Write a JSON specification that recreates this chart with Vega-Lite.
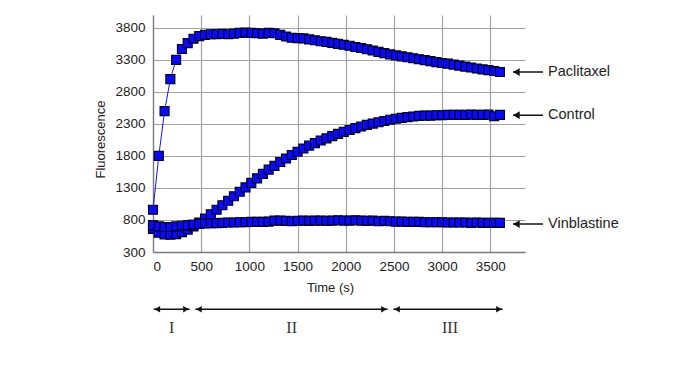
{
  "$schema": "https://vega.github.io/schema/vega-lite/v6.json",
  "width": 372,
  "height": 237,
  "autosize": "none",
  "padding": {"left": 153, "top": 15, "right": 174, "bottom": 125},
  "background": "white",
  "config": {
    "view": {"stroke": null},
    "axis": {
      "grid": true, "gridColor": "#a3a3a3", "gridWidth": 1.2,
      "domainColor": "#7a7a7a", "domainWidth": 1.3, "ticks": false, "labelOverlap": false,
      "labelFont": "Liberation Sans", "labelFontSize": 13.5, "labelColor": "#222222",
      "titleFont": "Liberation Sans", "titleFontSize": 13, "titleFontWeight": "normal", "titleColor": "#222222"
    }
  },
  "datasets": {
    "series": [
      {"series":"Paclitaxel","t":0,"v":960},{"series":"Paclitaxel","t":60,"v":1800},{"series":"Paclitaxel","t":120,"v":2500},{"series":"Paclitaxel","t":180,"v":3000},{"series":"Paclitaxel","t":240,"v":3300},{"series":"Paclitaxel","t":300,"v":3470},{"series":"Paclitaxel","t":360,"v":3560},{"series":"Paclitaxel","t":420,"v":3630},{"series":"Paclitaxel","t":480,"v":3670},{"series":"Paclitaxel","t":540,"v":3690},{"series":"Paclitaxel","t":600,"v":3700},{"series":"Paclitaxel","t":660,"v":3700},{"series":"Paclitaxel","t":720,"v":3705},{"series":"Paclitaxel","t":780,"v":3700},{"series":"Paclitaxel","t":840,"v":3710},{"series":"Paclitaxel","t":900,"v":3720},{"series":"Paclitaxel","t":960,"v":3725},{"series":"Paclitaxel","t":1020,"v":3720},{"series":"Paclitaxel","t":1080,"v":3715},{"series":"Paclitaxel","t":1140,"v":3710},{"series":"Paclitaxel","t":1200,"v":3720},{"series":"Paclitaxel","t":1260,"v":3715},{"series":"Paclitaxel","t":1320,"v":3690},{"series":"Paclitaxel","t":1380,"v":3665},{"series":"Paclitaxel","t":1440,"v":3645},{"series":"Paclitaxel","t":1500,"v":3640},{"series":"Paclitaxel","t":1560,"v":3635},{"series":"Paclitaxel","t":1620,"v":3620},{"series":"Paclitaxel","t":1680,"v":3605},{"series":"Paclitaxel","t":1740,"v":3590},{"series":"Paclitaxel","t":1800,"v":3580},{"series":"Paclitaxel","t":1860,"v":3565},{"series":"Paclitaxel","t":1920,"v":3550},{"series":"Paclitaxel","t":1980,"v":3535},{"series":"Paclitaxel","t":2040,"v":3520},{"series":"Paclitaxel","t":2100,"v":3500},{"series":"Paclitaxel","t":2160,"v":3485},{"series":"Paclitaxel","t":2220,"v":3465},{"series":"Paclitaxel","t":2280,"v":3445},{"series":"Paclitaxel","t":2340,"v":3425},{"series":"Paclitaxel","t":2400,"v":3405},{"series":"Paclitaxel","t":2460,"v":3385},{"series":"Paclitaxel","t":2520,"v":3370},{"series":"Paclitaxel","t":2580,"v":3355},{"series":"Paclitaxel","t":2640,"v":3340},{"series":"Paclitaxel","t":2700,"v":3325},{"series":"Paclitaxel","t":2760,"v":3310},{"series":"Paclitaxel","t":2820,"v":3295},{"series":"Paclitaxel","t":2880,"v":3280},{"series":"Paclitaxel","t":2940,"v":3265},{"series":"Paclitaxel","t":3000,"v":3250},{"series":"Paclitaxel","t":3060,"v":3240},{"series":"Paclitaxel","t":3120,"v":3225},{"series":"Paclitaxel","t":3180,"v":3210},{"series":"Paclitaxel","t":3240,"v":3195},{"series":"Paclitaxel","t":3300,"v":3180},{"series":"Paclitaxel","t":3360,"v":3165},{"series":"Paclitaxel","t":3420,"v":3150},{"series":"Paclitaxel","t":3480,"v":3140},{"series":"Paclitaxel","t":3540,"v":3125},{"series":"Paclitaxel","t":3600,"v":3110},
      {"series":"Control","t":0,"v":660},{"series":"Control","t":60,"v":600},{"series":"Control","t":120,"v":575},{"series":"Control","t":180,"v":570},{"series":"Control","t":240,"v":580},{"series":"Control","t":300,"v":610},{"series":"Control","t":360,"v":650},{"series":"Control","t":420,"v":700},{"series":"Control","t":480,"v":760},{"series":"Control","t":540,"v":820},{"series":"Control","t":600,"v":890},{"series":"Control","t":660,"v":960},{"series":"Control","t":720,"v":1030},{"series":"Control","t":780,"v":1100},{"series":"Control","t":840,"v":1170},{"series":"Control","t":900,"v":1240},{"series":"Control","t":960,"v":1310},{"series":"Control","t":1020,"v":1380},{"series":"Control","t":1080,"v":1450},{"series":"Control","t":1140,"v":1520},{"series":"Control","t":1200,"v":1585},{"series":"Control","t":1260,"v":1645},{"series":"Control","t":1320,"v":1705},{"series":"Control","t":1380,"v":1760},{"series":"Control","t":1440,"v":1815},{"series":"Control","t":1500,"v":1865},{"series":"Control","t":1560,"v":1915},{"series":"Control","t":1620,"v":1960},{"series":"Control","t":1680,"v":2000},{"series":"Control","t":1740,"v":2040},{"series":"Control","t":1800,"v":2075},{"series":"Control","t":1860,"v":2110},{"series":"Control","t":1920,"v":2145},{"series":"Control","t":1980,"v":2175},{"series":"Control","t":2040,"v":2205},{"series":"Control","t":2100,"v":2235},{"series":"Control","t":2160,"v":2260},{"series":"Control","t":2220,"v":2285},{"series":"Control","t":2280,"v":2305},{"series":"Control","t":2340,"v":2325},{"series":"Control","t":2400,"v":2345},{"series":"Control","t":2460,"v":2365},{"series":"Control","t":2520,"v":2380},{"series":"Control","t":2580,"v":2395},{"series":"Control","t":2640,"v":2405},{"series":"Control","t":2700,"v":2415},{"series":"Control","t":2760,"v":2425},{"series":"Control","t":2820,"v":2430},{"series":"Control","t":2880,"v":2430},{"series":"Control","t":2940,"v":2435},{"series":"Control","t":3000,"v":2435},{"series":"Control","t":3060,"v":2440},{"series":"Control","t":3120,"v":2440},{"series":"Control","t":3180,"v":2440},{"series":"Control","t":3240,"v":2440},{"series":"Control","t":3300,"v":2445},{"series":"Control","t":3360,"v":2440},{"series":"Control","t":3420,"v":2440},{"series":"Control","t":3480,"v":2445},{"series":"Control","t":3540,"v":2420},{"series":"Control","t":3600,"v":2440},
      {"series":"Vinblastine","t":0,"v":720},{"series":"Vinblastine","t":60,"v":700},{"series":"Vinblastine","t":120,"v":690},{"series":"Vinblastine","t":180,"v":690},{"series":"Vinblastine","t":240,"v":700},{"series":"Vinblastine","t":300,"v":710},{"series":"Vinblastine","t":360,"v":720},{"series":"Vinblastine","t":420,"v":730},{"series":"Vinblastine","t":480,"v":740},{"series":"Vinblastine","t":540,"v":745},{"series":"Vinblastine","t":600,"v":750},{"series":"Vinblastine","t":660,"v":750},{"series":"Vinblastine","t":720,"v":755},{"series":"Vinblastine","t":780,"v":760},{"series":"Vinblastine","t":840,"v":760},{"series":"Vinblastine","t":900,"v":765},{"series":"Vinblastine","t":960,"v":765},{"series":"Vinblastine","t":1020,"v":770},{"series":"Vinblastine","t":1080,"v":770},{"series":"Vinblastine","t":1140,"v":770},{"series":"Vinblastine","t":1200,"v":775},{"series":"Vinblastine","t":1260,"v":790},{"series":"Vinblastine","t":1320,"v":790},{"series":"Vinblastine","t":1380,"v":785},{"series":"Vinblastine","t":1440,"v":780},{"series":"Vinblastine","t":1500,"v":785},{"series":"Vinblastine","t":1560,"v":790},{"series":"Vinblastine","t":1620,"v":785},{"series":"Vinblastine","t":1680,"v":790},{"series":"Vinblastine","t":1740,"v":790},{"series":"Vinblastine","t":1800,"v":785},{"series":"Vinblastine","t":1860,"v":790},{"series":"Vinblastine","t":1920,"v":795},{"series":"Vinblastine","t":1980,"v":790},{"series":"Vinblastine","t":2040,"v":790},{"series":"Vinblastine","t":2100,"v":795},{"series":"Vinblastine","t":2160,"v":790},{"series":"Vinblastine","t":2220,"v":785},{"series":"Vinblastine","t":2280,"v":790},{"series":"Vinblastine","t":2340,"v":780},{"series":"Vinblastine","t":2400,"v":785},{"series":"Vinblastine","t":2460,"v":780},{"series":"Vinblastine","t":2520,"v":775},{"series":"Vinblastine","t":2580,"v":775},{"series":"Vinblastine","t":2640,"v":770},{"series":"Vinblastine","t":2700,"v":770},{"series":"Vinblastine","t":2760,"v":770},{"series":"Vinblastine","t":2820,"v":765},{"series":"Vinblastine","t":2880,"v":765},{"series":"Vinblastine","t":2940,"v":765},{"series":"Vinblastine","t":3000,"v":765},{"series":"Vinblastine","t":3060,"v":760},{"series":"Vinblastine","t":3120,"v":760},{"series":"Vinblastine","t":3180,"v":760},{"series":"Vinblastine","t":3240,"v":760},{"series":"Vinblastine","t":3300,"v":755},{"series":"Vinblastine","t":3360,"v":760},{"series":"Vinblastine","t":3420,"v":755},{"series":"Vinblastine","t":3480,"v":755},{"series":"Vinblastine","t":3540,"v":755},{"series":"Vinblastine","t":3600,"v":755}
    ],
    "rightLabels": [
      {"label":"Paclitaxel","t":4099,"v":3110},
      {"label":"Control","t":4099,"v":2435},
      {"label":"Vinblastine","t":4099,"v":737}
    ],
    "rightArrows": [
      {"t":3735,"t2":4047,"v":3110},
      {"t":3735,"t2":4047,"v":2435},
      {"t":3735,"t2":4047,"v":737}
    ],
    "rightHeads": [
      {"t":3770,"v":3110,"dir":"left"},
      {"t":3770,"v":2435,"dir":"left"},
      {"t":3770,"v":737,"dir":"left"}
    ],
    "phaseArrows": [
      {"t":8,"t2":380,"v":-595},
      {"t":440,"t2":2434,"v":-595},
      {"t":2494,"t2":3628,"v":-595}
    ],
    "phaseHeads": [
      {"t":45,"v":-595,"dir":"left"},{"t":342,"v":-595,"dir":"right"},
      {"t":477,"v":-595,"dir":"left"},{"t":2397,"v":-595,"dir":"right"},
      {"t":2532,"v":-595,"dir":"left"},{"t":3590,"v":-595,"dir":"right"}
    ],
    "phaseLabels": [
      {"label":"I","t":194,"v":-887},
      {"label":"II","t":1439,"v":-887},
      {"label":"III","t":3082,"v":-887}
    ]
  },
  "layer": [
    {
      "data": {"name": "series"},
      "mark": {"type": "line", "color": "#1414ff", "strokeWidth": 1},
      "encoding": {
        "x": {"field": "t", "type": "quantitative", "scale": {"domain": [0, 3860], "nice": false, "zero": false},
              "axis": {"title": "Time (s)", "format": "d", "tickCount": 12, "labelOverlap": false, "values": [0,500,1000,1500,2000,2500,3000,3500], "labelPadding": 7, "titleX": 177, "titleY": 39, "titleBaseline": "alphabetic"}},
        "y": {"field": "v", "type": "quantitative", "scale": {"domain": [300, 4000], "nice": false, "zero": false},
              "axis": {"title": "Fluorescence", "format": "d", "tickCount": 12, "labelOverlap": false, "labelBound": false, "values": [300,800,1300,1800,2300,2800,3300,3800], "labelPadding": 8, "titlePadding": 7, "titleY": 124}},
        "detail": {"field": "series"}
      }
    },
    {
      "data": {"name": "series"},
      "mark": {"type": "point", "shape": "square", "filled": true, "size": 80, "fill": "#0a0af5", "stroke": "#00002a", "strokeWidth": 1.2, "opacity": 1},
      "encoding": {
        "x": {"field": "t", "type": "quantitative"},
        "y": {"field": "v", "type": "quantitative"}
      }
    },
    {
      "data": {"name": "rightArrows"},
      "mark": {"type": "rule", "color": "#111111", "strokeWidth": 1.5},
      "encoding": {
        "x": {"field": "t", "type": "quantitative"},
        "x2": {"field": "t2"},
        "y": {"field": "v", "type": "quantitative"}
      }
    },
    {
      "data": {"name": "rightHeads"},
      "mark": {"type": "point", "filled": true, "size": 60, "color": "#111111", "opacity": 1},
      "encoding": {
        "x": {"field": "t", "type": "quantitative"},
        "y": {"field": "v", "type": "quantitative"},
        "shape": {"field": "dir", "type": "nominal", "scale": {"domain": ["left","right"], "range": ["triangle-left","triangle-right"]}, "legend": null}
      }
    },
    {
      "data": {"name": "rightLabels"},
      "mark": {"type": "text", "align": "left", "baseline": "middle", "font": "Liberation Sans", "fontSize": 14.5, "color": "#222222"},
      "encoding": {
        "x": {"field": "t", "type": "quantitative"},
        "y": {"field": "v", "type": "quantitative"},
        "text": {"field": "label"}
      }
    },
    {
      "data": {"name": "phaseArrows"},
      "mark": {"type": "rule", "color": "#111111", "strokeWidth": 1.5},
      "encoding": {
        "x": {"field": "t", "type": "quantitative"},
        "x2": {"field": "t2"},
        "y": {"field": "v", "type": "quantitative"}
      }
    },
    {
      "data": {"name": "phaseHeads"},
      "mark": {"type": "point", "filled": true, "size": 42, "color": "#111111", "opacity": 1},
      "encoding": {
        "x": {"field": "t", "type": "quantitative"},
        "y": {"field": "v", "type": "quantitative"},
        "shape": {"field": "dir", "type": "nominal", "scale": {"domain": ["left","right"], "range": ["triangle-left","triangle-right"]}, "legend": null}
      }
    },
    {
      "data": {"name": "phaseLabels"},
      "mark": {"type": "text", "align": "center", "baseline": "middle", "font": "Liberation Serif", "fontSize": 16, "color": "#333333"},
      "encoding": {
        "x": {"field": "t", "type": "quantitative"},
        "y": {"field": "v", "type": "quantitative"},
        "text": {"field": "label"}
      }
    }
  ]
}
